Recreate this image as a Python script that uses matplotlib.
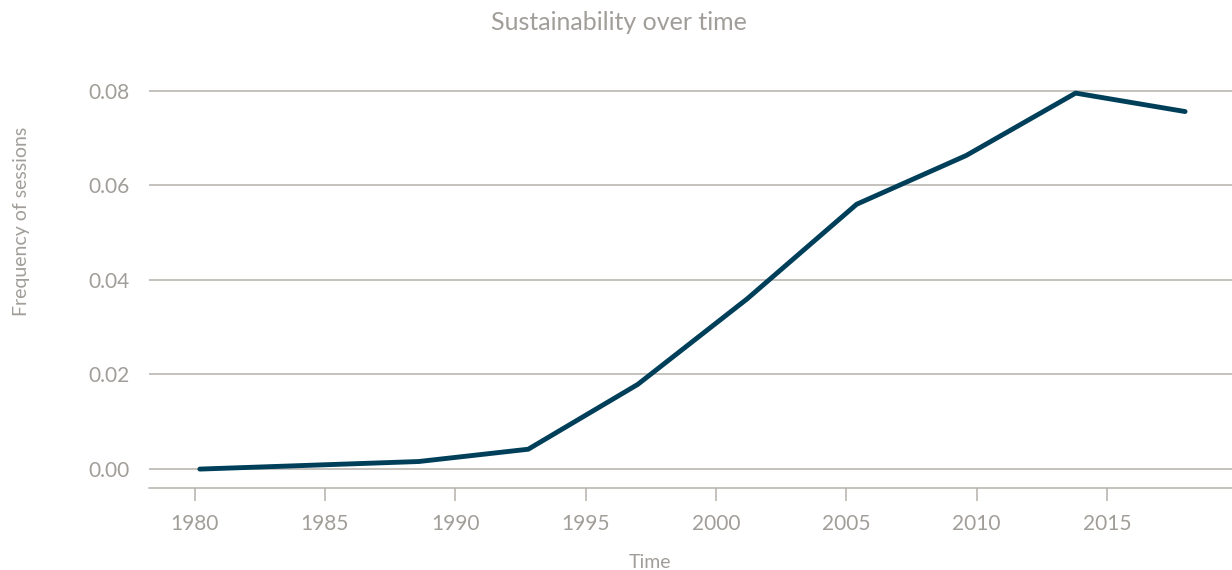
import matplotlib
matplotlib.use("Agg")
import matplotlib.pyplot as plt

years = [1980.2, 1984.4, 1988.6, 1992.8, 1997.0, 2001.2, 2005.4, 2009.6, 2013.8, 2018.0]
freq = [0.0, 0.0008, 0.0016, 0.0042, 0.0179, 0.0360, 0.0560, 0.0663, 0.0795, 0.0756]
xticks = [1980, 1985, 1990, 1995, 2000, 2005, 2010, 2015]
yticks = [0.00, 0.02, 0.04, 0.06, 0.08]

text_col = "#a19e99"
grid_col = "#b5b1ab"
line_col = "#003f5a"

plt.rcParams['font.family'] = ['Lato', 'DejaVu Sans']

W, H = 1232, 570
fig = plt.figure(figsize=(W / 100, H / 100), dpi=100)
ax = fig.add_axes([149 / W, 1 - 488 / H, 1 - 149 / W, (488 - 60) / H])

ax.plot(years, freq, color=line_col, linewidth=3.5, solid_capstyle='round', zorder=3)

ax.set_xlim(1978.25, 2019.8)
ax.set_ylim(-0.004, 0.0865)
ax.set_xticks(xticks)
ax.set_yticks(yticks)
ax.set_yticklabels(["%.2f" % v for v in yticks])
ax.grid(axis='y', color=grid_col, linewidth=1.1)
ax.set_axisbelow(True)

for s in ['top', 'right', 'left']:
    ax.spines[s].set_visible(False)
ax.spines['bottom'].set_color(grid_col)
ax.spines['bottom'].set_linewidth(1.1)

ax.tick_params(axis='x', colors=text_col, labelsize=15, length=9, width=1.1,
               color=grid_col, pad=10)
ax.tick_params(axis='y', colors=text_col, labelsize=15, length=0, pad=14)

# axis labels and title placed in pixel positions like the original
fig.text(650 / W, 1 - 563 / H, "Time", color=text_col, fontsize=14,
         ha='center', va='center')
fig.text(22 / W, 1 - 221 / H, "Frequency of sessions", color=text_col, fontsize=14,
         ha='center', va='center', rotation=90)
fig.text(619 / W, 1 - 22 / H, "Sustainability over time", color=text_col,
         fontsize=18, ha='center', va='center')

fig.savefig("out.png", dpi=100)
